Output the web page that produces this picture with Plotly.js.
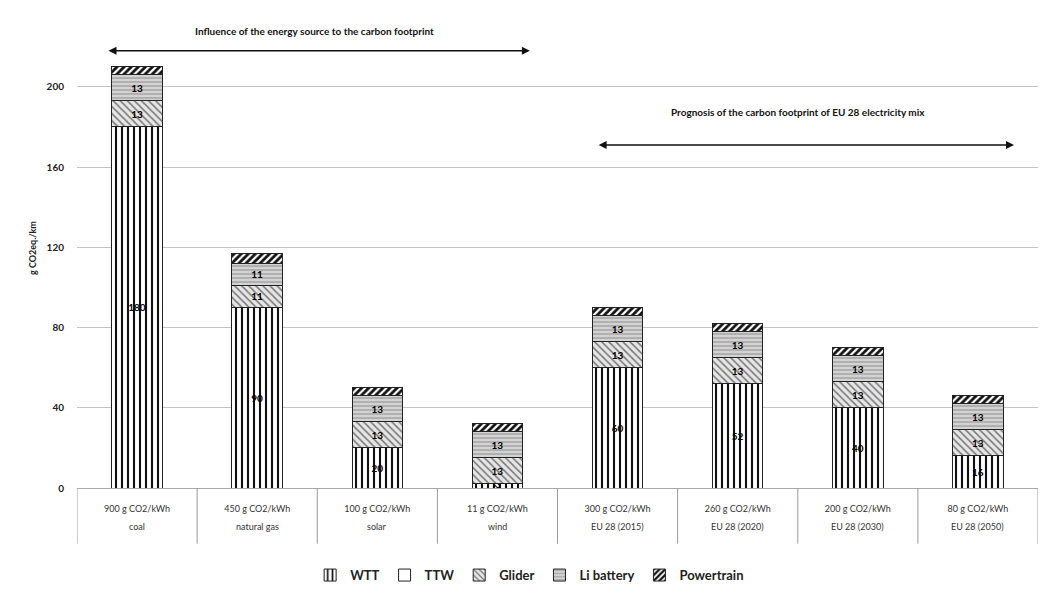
<!DOCTYPE html>
<html>
<head>
<meta charset="utf-8">
<script src="https://cdn.plot.ly/plotly-3.0.1.min.js"></script>
<style>html,body{margin:0;padding:0;background:#fff}#chart{width:1047px;height:597px}</style>
</head>
<body>
<div id="chart"></div>
<script>
const categories = ["coal","natural gas","solar","wind","EU 28 (2015)","EU 28 (2020)","EU 28 (2030)","EU 28 (2050)"];
const intensity = ["900 g CO2/kWh","450 g CO2/kWh","100 g CO2/kWh","11 g CO2/kWh","300 g CO2/kWh","260 g CO2/kWh","200 g CO2/kWh","80 g CO2/kWh"];
const wtt = [180, 90, 20, 2, 60, 52, 40, 16];
const ttw = [0, 0, 0, 0, 0, 0, 0, 0];
const glider = [13, 11, 13, 13, 13, 13, 13, 13];
const battery = [13, 11, 13, 13, 13, 13, 13, 13];
const powertrain = [4, 5, 4, 4, 4, 4, 4, 4];
const yTicks = [0, 40, 80, 120, 160, 200];
const yTickText = ["0", "40", "80", "120", "160", "200"];

const xs = categories.map((c, i) => i);
const FONT = "Lato, 'Open Sans', sans-serif";
const lineStyle = {color: "#222", width: 1};
const txtFont = {family: FONT, size: 10, color: "#000000", weight: "bold"};

function bar(name, vals, pattern, bg, showText) {
  return {
    type: "bar", name: name, x: xs, y: vals,
    marker: {color: bg, line: lineStyle, pattern: pattern},
    text: showText ? vals.map(String) : null,
    textposition: showText ? "inside" : "none",
    insidetextanchor: "middle",
    textfont: txtFont,
    insidetextfont: txtFont,
    hoverinfo: "y+name"
  };
}

const traces = [
  bar("WTT", wtt, {shape: "|", bgcolor: "#ffffff", fgcolor: "#111111", size: 6, solidity: 0.35}, "#ffffff", true),
  bar("TTW", ttw, {shape: "", bgcolor: "#ffffff"}, "#ffffff", false),
  bar("Glider", glider, {shape: "\\", bgcolor: "#e6e6e6", fgcolor: "#777777", size: 5, solidity: 0.3}, "#e6e6e6", true),
  bar("Li battery", battery, {shape: "-", bgcolor: "#d2d2d2", fgcolor: "#9a9a9a", size: 4, solidity: 0.3}, "#d2d2d2", true),
  bar("Powertrain", powertrain, {shape: "/", bgcolor: "#ffffff", fgcolor: "#111111", size: 5, solidity: 0.55}, "#ffffff", false)
];

const shapes = [];
for (let i = 0; i <= categories.length; i++) {
  shapes.push({type: "line", xref: "x", yref: "paper", x0: i - 0.5, x1: i - 0.5, y0: 0, y1: -0.116,
    line: {color: "#9a9a9a", width: 1}});
}

const annotations = categories.map((c, i) => ({
  xref: "x", yref: "paper", x: i, y: -0.081, text: c, showarrow: false,
  font: {family: FONT, size: 9, color: "#333"}, xanchor: "center", yanchor: "middle"
}));

annotations.push(
  {xref: "paper", yref: "y", x: 0.247, y: 228, text: "Influence of the energy source to the carbon footprint",
   showarrow: false, font: {family: FONT, size: 10, color: "#111", weight: "bold"}, xanchor: "center", yanchor: "middle"},
  {xref: "x", yref: "y", axref: "x", ayref: "y", x: 3.27, y: 218, ax: -0.25, ay: 218, text: "",
   showarrow: true, arrowhead: 2, startarrowhead: 2, arrowside: "end+start", arrowsize: 1, arrowwidth: 1.6, arrowcolor: "#111"},
  {xref: "paper", yref: "y", x: 0.75, y: 187.5, text: "Prognosis of the carbon footprint of EU 28 electricity mix",
   showarrow: false, font: {family: FONT, size: 10, color: "#111", weight: "bold"}, xanchor: "center", yanchor: "middle"},
  {xref: "x", yref: "y", axref: "x", ayref: "y", x: 7.3, y: 171, ax: 3.83, ay: 171, text: "",
   showarrow: true, arrowhead: 2, startarrowhead: 2, arrowside: "end+start", arrowsize: 1, arrowwidth: 1.6, arrowcolor: "#111"}
);

const layout = {
  width: 1047, height: 597,
  margin: {l: 77, r: 9, t: 8, b: 108},
  paper_bgcolor: "#ffffff", plot_bgcolor: "#ffffff",
  barmode: "stack", bargap: 0.58,
  showlegend: true,
  legend: {orientation: "h", x: 0.471, xanchor: "center", y: -0.179, yanchor: "middle",
    font: {family: FONT, size: 13, color: "#222", weight: "bold"}, traceorder: "normal", itemwidth: 30, tracegroupgap: 0},
  uniformtext: {mode: "show", minsize: 9},
  xaxis: {
    tickmode: "array", tickvals: xs, ticktext: intensity,
    range: [-0.5, categories.length - 0.5],
    showgrid: false, zeroline: false, showline: true, linecolor: "#aaa", linewidth: 1,
    ticks: "", ticklabelstandoff: 12,
    tickfont: {family: FONT, size: 9, color: "#333"}
  },
  yaxis: {
    range: [0, 239.3], tickmode: "array", tickvals: yTicks, ticktext: yTickText,
    showgrid: true, gridcolor: "#c4c4c4", gridwidth: 1, zeroline: false, showline: false,
    ticks: "", ticklabelstandoff: 12,
    tickfont: {family: FONT, size: 10, color: "#222", weight: "bold"},
    title: {text: "g CO2eq./km", font: {family: FONT, size: 9, color: "#222", weight: "bold"}, standoff: 8}
  },
  shapes: shapes,
  annotations: annotations,
  font: {family: FONT}
};

Plotly.newPlot("chart", traces, layout, {displayModeBar: false, staticPlot: true});
</script>
</body>
</html>
